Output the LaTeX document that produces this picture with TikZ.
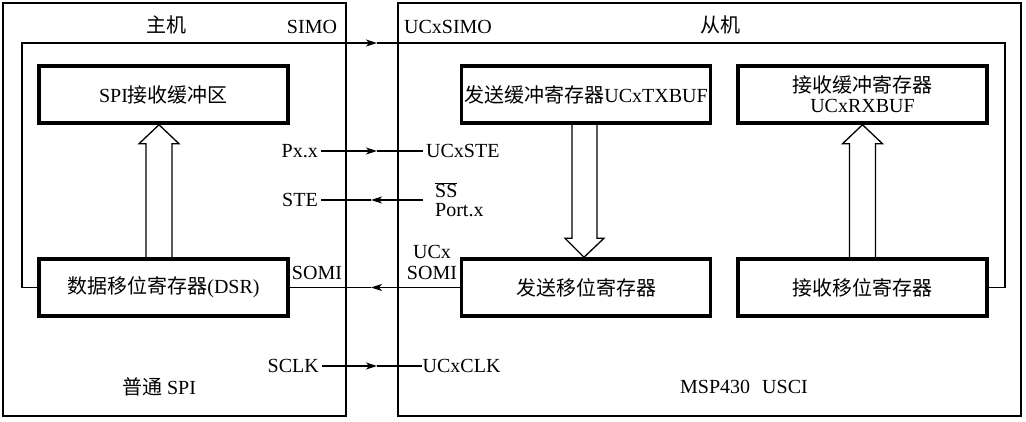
\documentclass[tikz,border=0pt]{standalone}
\usepackage{fontspec}
\setmainfont{Liberation Serif}
\newfontfamily\cjk{Noto Sans CJK SC}
\usetikzlibrary{arrows.meta,calc}

\tikzset{
  unitbox/.style={line width=2.2pt},
  regbox/.style={draw, line width=3.5pt, minimum width=249pt, minimum height=57pt, inner sep=0pt},
  sig/.style={line width=1.3pt},
  hollow/.style={line width=1.3pt, line join=miter},
  lbl/.style={inner sep=3pt},
}

\begin{document}
\begin{tikzpicture}[x=1pt, y=-1pt, font=\fontsize{20}{24}\selectfont,
  >={Stealth[length=11pt,width=7pt,inset=3pt]}]
\useasboundingbox (0,0) rectangle (1026,422);

% master and slave
\draw[unitbox] (3,3) rectangle (346,416);
\draw[unitbox] (398,3) rectangle (1021,416);
\node (master) at (166,25) {\cjk 主机};
\node (slave) at (720,25) {\cjk 从机};
\node (spi) at (159,387) {{\cjk 普通} SPI};
\node (usci) at (744,387) {MSP430\hspace{0.6em}USCI};

% registers
\node[regbox] (spibuf) at (163.5,94.5) {SPI{\cjk 接收缓冲区}};
\node[regbox] (dsr) at (163.5,287.5) {{\cjk 数据移位寄存器}(DSR)};
\node[regbox] (txbuf) at (586,94.5) {{\cjk 发送缓冲寄存器}UCxTXBUF};
\node[regbox, align=center] (rxbuf) at (862.5,94.5) {{\cjk 接收缓冲寄存器}\\[-4pt]UCxRXBUF};
\node[regbox] (txsr) at (586,287.5) {\cjk 发送移位寄存器};
\node[regbox] (rxsr) at (862.5,287.5) {\cjk 接收移位寄存器};

% pin labels
\node (simo) at (312,27) {SIMO};
\node (ucxsimo) at (448,27) {UCxSIMO};
\node[lbl, anchor=east] (pxx) at (321,151) {Px.x};
\node[lbl, anchor=west] (ucxste) at (423,151) {UCxSTE};
\node[lbl, anchor=east] (ste) at (321,200) {STE};
\node[lbl, anchor=west, inner xsep=12pt, align=left] (ss) at (423,200)
  {$\overline{\mbox{SS}}$\\[-5pt]Port.x};
\node (somim) at (317,273) {SOMI};
\node[align=center] (somis) at (432,262) {UCx\\[-3pt]SOMI};
\node[lbl, anchor=east] (sclk) at (322,366) {SCLK};
\node[lbl, anchor=west, inner xsep=0.5pt] (ucxclk) at (422,366) {UCxCLK};

% arrow tips sit on these columns
\coordinate (tipR) at (377,0);
\coordinate (tipL) at (371,0);
\coordinate (simoL) at (22,43);
\coordinate (simoR) at (1005,43);

% SIMO
\draw[sig,->] (dsr.west) -| (simoL) -- (simoL -| tipR);
\draw[sig] (simoL -| tipR) -- (simoR) |- (rxsr.east);
% STE
\draw[sig,->] (pxx.east) -- (pxx.east -| tipR);
\draw[sig] (pxx.east -| tipR) -- (ucxste.west);
\draw[sig,->] (ss.west) -- (ss.west -| tipL);
\draw[sig] (ss.west -| tipL) -- (ste.east);
% SOMI
\draw[sig,->] (txsr.west) -- (txsr.west -| tipL);
\draw[sig] (txsr.west -| tipL) -- (dsr.east);
% SCLK
\draw[sig,->] (sclk.east) -- (sclk.east -| tipR);
\draw[sig] (sclk.east -| tipR) -- (ucxclk.west);

% data paths
\draw[hollow] ($(dsr.north)+(-17.5,0)$) -- ($(spibuf.south)+(-17.5,19)$)
  -- ($(spibuf.south)+(-24.5,19)$) -- ($(spibuf.south)+(-4.5,0)$)
  -- ($(spibuf.south)+(15.5,19)$) -- ($(spibuf.south)+(8.5,19)$)
  -- ($(dsr.north)+(8.5,0)$);
\draw[hollow] ($(txbuf.south)+(-14,0)$) -- ($(txsr.north)+(-14,-19)$)
  -- ($(txsr.north)+(-21,-19)$) -- ($(txsr.north)+(-2,0)$)
  -- ($(txsr.north)+(18,-19)$) -- ($(txsr.north)+(11,-19)$)
  -- ($(txbuf.south)+(11,0)$);
\draw[hollow] ($(rxsr.north)+(-13,0)$) -- ($(rxbuf.south)+(-13,19)$)
  -- ($(rxbuf.south)+(-20,19)$) -- (rxbuf.south)
  -- ($(rxbuf.south)+(20,19)$) -- ($(rxbuf.south)+(13,19)$)
  -- ($(rxsr.north)+(13,0)$);
\end{tikzpicture}
\end{document}
